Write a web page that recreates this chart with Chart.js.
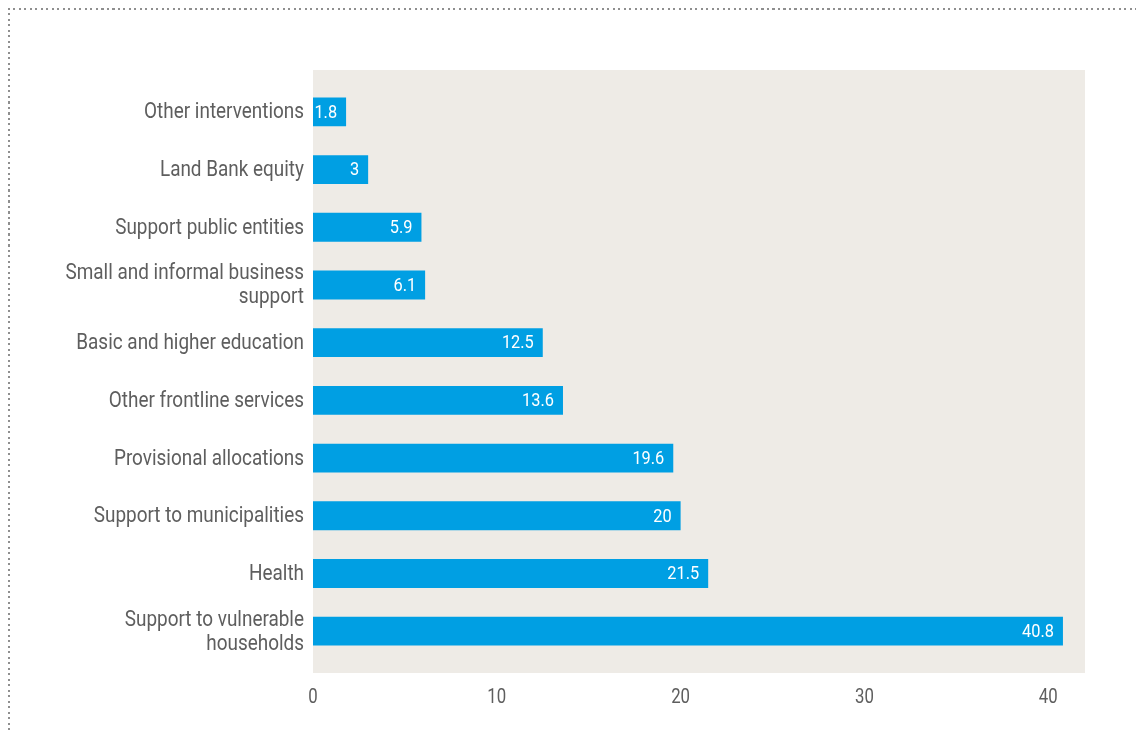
<!DOCTYPE html>
<html>
<head>
<meta charset="utf-8">
<script src="https://cdn.jsdelivr.net/npm/chart.js@4.4.0/dist/chart.umd.min.js"></script>
<style>
  html, body { margin: 0; padding: 0; background: #fff; }
  #wrap { position: relative; width: 1136px; height: 731px; overflow: hidden; }
  .dots-h {
    position: absolute; left: 8px; top: 8px; width: 1130px; height: 2px;
    background: repeating-linear-gradient(to right, #8f8f8f 0 2px, transparent 2px 5.5px);
  }
  .dots-v {
    position: absolute; left: 8px; top: 8px; width: 2px; height: 730px;
    background: repeating-linear-gradient(to bottom, #8f8f8f 0 2px, transparent 2px 5.5px);
  }
  canvas { position: absolute; left: 0; top: 0; }
</style>
</head>
<body>
<div id="wrap">
  <div class="dots-h"></div>
  <div class="dots-v"></div>
  <canvas id="spendChart" width="1136" height="731"></canvas>
</div>
<script>
const categories = [
  'Other interventions',
  'Land Bank equity',
  'Support public entities',
  ['Small and informal business', 'support'],
  'Basic and higher education',
  'Other frontline services',
  'Provisional allocations',
  'Support to municipalities',
  'Health',
  ['Support to vulnerable', 'households']
];
const amounts = [1.8, 3, 5.9, 6.1, 12.5, 13.6, 19.6, 20, 21.5, 40.8];
const xTicks = [0, 10, 20, 30, 40];

const FONT = 'Roboto, "Noto Sans", sans-serif';
const GREY = '#5e5e5e';

// narrow text: the original uses a condensed face, so squeeze Roboto sideways
function condensedText(ctx, text, x, y, squeeze) {
    ctx.save();
    ctx.translate(x, y);
    ctx.scale(squeeze, 1);
    ctx.fillText(text, 0, 0);
    ctx.restore();
}

// beige plot background, a little taller than the chart area
const plotBackground = {
    id: 'plotBackground',
    beforeDraw: function (chart) {
        const { ctx, chartArea } = chart;
        ctx.save();
        ctx.fillStyle = '#eeebe6';
        ctx.fillRect(chartArea.left, chartArea.top - 13, chartArea.right - chartArea.left, chartArea.bottom - chartArea.top + 26);
        ctx.restore();
    }
};

// category names, axis numbers and the value inside each bar
const textLayer = {
    id: 'textLayer',
    afterDatasetsDraw: function (chart) {
        const { ctx, chartArea } = chart;
        const yScale = chart.scales.y;
        const xScale = chart.scales.x;
        ctx.save();
        ctx.textBaseline = 'middle';

        // y labels
        ctx.font = '22px ' + FONT;
        ctx.fillStyle = GREY;
        ctx.textAlign = 'right';
        categories.forEach(function (label, i) {
            const lines = Array.isArray(label) ? label : [label];
            const yc = yScale.getPixelForTick(i) + 1;
            const lh = 24;
            const y0 = yc - (lines.length - 1) * lh / 2;
            lines.forEach(function (line, j) {
                condensedText(ctx, line, chartArea.left - 9, y0 + j * lh, 0.86);
            });
        });

        // x ticks
        ctx.font = '21px ' + FONT;
        ctx.textAlign = 'center';
        xTicks.forEach(function (v) {
            condensedText(ctx, String(v), xScale.getPixelForValue(v), chartArea.bottom + 38, 0.8);
        });

        // bar values
        const meta = chart.getDatasetMeta(0);
        ctx.font = '19px ' + FONT;
        ctx.fillStyle = '#ffffff';
        ctx.textAlign = 'right';
        meta.data.forEach(function (bar, i) {
            condensedText(ctx, String(amounts[i]), bar.x - 9, bar.y + 1, 0.86);
        });
        ctx.restore();
    }
};

const ctx = document.getElementById('spendChart').getContext('2d');
new Chart(ctx, {
    type: 'bar',
    data: {
        labels: categories,
        datasets: [{
            data: amounts,
            backgroundColor: '#009fe3',
            borderWidth: 0,
            barPercentage: 0.5,
            categoryPercentage: 1
        }]
    },
    options: {
        indexAxis: 'y',
        responsive: false,
        animation: false,
        layout: { padding: { top: 83, right: 51, bottom: 0, left: 0 } },
        plugins: {
            legend: { display: false },
            tooltip: { enabled: false }
        },
        scales: {
            x: {
                min: 0,
                max: 42,
                afterFit: function (scale) { scale.height = 71; },
                grid: { display: false, drawTicks: false },
                border: { display: false },
                ticks: { display: false, stepSize: 10 }
            },
            y: {
                afterFit: function (scale) { scale.width = 313; },
                grid: { display: false, drawTicks: false },
                border: { display: false },
                ticks: { display: false }
            }
        }
    },
    plugins: [plotBackground, textLayer]
});
</script>
</body>
</html>
